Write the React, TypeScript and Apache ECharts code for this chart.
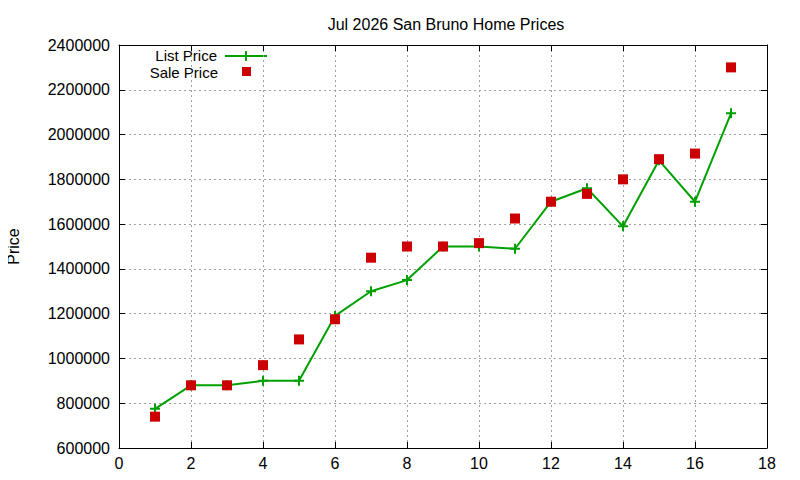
import React, { useEffect, useRef } from "react";
import * as echarts from "echarts";

const months = [1, 2, 3, 4, 5, 6, 7, 8, 9, 10, 11, 12, 13, 14, 15, 16, 17];
const listPrice = [
  775000, 880000, 880000, 900000, 900000, 1190000, 1300000, 1350000, 1500000,
  1500000, 1490000, 1700000, 1760000, 1590000, 1885000, 1700000, 2095000,
];
const salePrice = [
  740000, 880000, 880000, 970000, 1085000, 1175000, 1450000, 1500000, 1500000,
  1515000, 1625000, 1700000, 1735000, 1800000, 1890000, 1915000, 2300000,
];

const FONT = "Liberation Sans, Arial, sans-serif";
const GREEN = "#00a000";
const RED = "#cc0000";
const PLUS = "path://M4,0h2v4h4v2h-4v4h-2v-4h-4v-2h4z";

const App: React.FC = () => {
  const chartRef = useRef<HTMLDivElement>(null);

  useEffect(() => {
    const chart = echarts.init(chartRef.current!, null, { renderer: "svg" });

    const gridLine = { show: true, lineStyle: { color: "#a0a0a0", type: [2, 3] as any, width: 1 } };
    const axisLine = { show: true, onZero: false, lineStyle: { color: "#000", width: 1 } };
    const tickIn = { show: true, inside: true, length: 6, lineStyle: { color: "#000" } };
    const label = { color: "#000", fontFamily: FONT, fontSize: 16 };
    const legendText = {
      fontFamily: FONT,
      fontSize: 15,
      lineHeight: 14,
      fill: "#000",
      textAlign: "right",
      textVerticalAlign: "middle",
    };

    chart.setOption({
      animation: false,
      backgroundColor: "#fff",
      title: {
        text: "Jul 2026 San Bruno Home Prices",
        left: 441,
        top: 11,
        textAlign: "center",
        textStyle: { fontFamily: FONT, fontSize: 16, fontWeight: "normal", color: "#000" },
      },
      grid: { left: 119, right: 33, top: 45, bottom: 32, outerBoundsMode: "none" },
      xAxis: [
        {
          type: "value",
          min: 0,
          max: 18,
          interval: 2,
          axisLine,
          axisTick: tickIn,
          axisLabel: { ...label, margin: 7 },
          splitLine: gridLine,
        },
        {
          type: "value",
          position: "top",
          min: 0,
          max: 18,
          interval: 2,
          axisLine,
          axisTick: tickIn,
          axisLabel: { show: false },
          splitLine: { show: false },
        },
      ],
      yAxis: [
        {
          type: "value",
          min: 600000,
          max: 2400000,
          interval: 200000,
          name: "Price",
          nameLocation: "middle",
          nameGap: 98,
          nameTextStyle: { fontFamily: FONT, fontSize: 16, color: "#000" },
          axisLine,
          axisTick: tickIn,
          axisLabel: { ...label, margin: 9, formatter: (v: number) => String(v) },
          splitLine: gridLine,
        },
        {
          type: "value",
          position: "right",
          min: 600000,
          max: 2400000,
          interval: 200000,
          axisLine,
          axisTick: tickIn,
          axisLabel: { show: false },
          splitLine: { show: false },
        },
      ],
      series: [
        {
          name: "List Price",
          type: "line",
          data: months.map((m, i) => [m, listPrice[i]]),
          symbol: PLUS,
          symbolSize: 10,
          showAllSymbol: true,
          lineStyle: { color: GREEN, width: 2 },
          itemStyle: { color: GREEN },
          z: 2,
        },
        {
          name: "Sale Price",
          type: "scatter",
          data: months.map((m, i) => [m, salePrice[i]]),
          symbol: "rect",
          symbolSize: 10,
          itemStyle: { color: RED, opacity: 1 },
          z: 3,
        },
      ],
      graphic: [
        { type: "text", x: 217, y: 55, style: { ...legendText, text: "List Price" } },
        { type: "text", x: 218, y: 72, style: { ...legendText, text: "Sale Price" } },
        {
          type: "line",
          shape: { x1: 225, y1: 56, x2: 267, y2: 56 },
          style: { stroke: GREEN, lineWidth: 2 },
        },
        {
          type: "line",
          shape: { x1: 246, y1: 51, x2: 246, y2: 61 },
          style: { stroke: GREEN, lineWidth: 2 },
        },
        {
          type: "rect",
          shape: { x: 242, y: 67, width: 9, height: 9 },
          style: { fill: RED },
        },
      ],
    });

    return () => {
      chart.dispose();
    };
  }, []);

  return <div ref={chartRef} style={{ width: "800px", height: "480px", margin: "-8px" }}></div>;
};

export default App;
